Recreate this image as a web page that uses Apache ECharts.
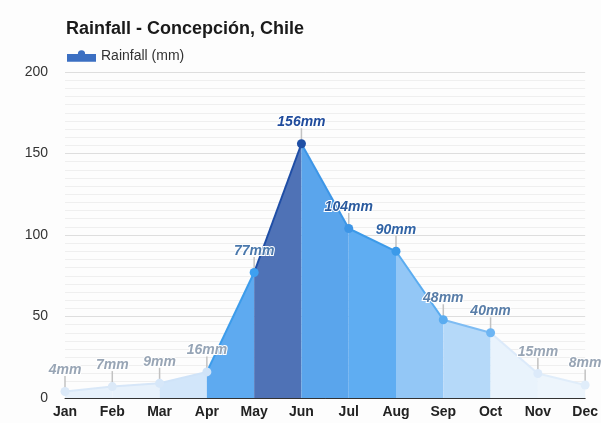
<!DOCTYPE html>
<html>
<head>
<meta charset="utf-8">
<script src="https://cdn.jsdelivr.net/npm/echarts@6/dist/echarts.min.js"></script>
<style>
  html, body { margin: 0; padding: 0; background: #fdfdfd; }
  #chart { width: 601px; height: 423px; }
</style>
</head>
<body>
<div id="chart"></div>
<script>
// Monthly rainfall, Concepción
const months = ['Jan', 'Feb', 'Mar', 'Apr', 'May', 'Jun', 'Jul', 'Aug', 'Sep', 'Oct', 'Nov', 'Dec'];
const rainfall = [4, 7, 9, 16, 77, 156, 104, 90, 48, 40, 15, 8];
const yTicks = [0, 50, 100, 150, 200];

// Fill and stroke for the band between month i and month i+1
const bandFill = ['#e7f1fb', '#e7f1fb', '#d2e6fa', '#5eaaf0', '#4f72b6', '#5aa5ec',
                  '#5fadf2', '#93c7f6', '#b5d9f9', '#e9f3fc', '#edf5fc'];
const bandLine = ['#d9e8f8', '#d6e6f8', '#cfe3f8', '#3c9ceb', '#1f4ea6', '#3d96e7',
                  '#3d9be9', '#5aacf0', '#7ebcf3', '#dceafa', '#e0edfa'];
// Point marker and value-label colours per month
const dotColor = ['#dbe9f8', '#dbe9f8', '#d6e7f9', '#cfe3f8', '#3ea0f0', '#1f4fa5',
                  '#3d95e6', '#3b9ae9', '#5aacf0', '#6db5f3', '#dceafa', '#e0edfa'];
const labelColor = ['#98a5b5', '#98a5b5', '#98a5b5', '#95a4b6', '#4a78ac', '#1f4b9c',
                    '#2a5a9e', '#3063a5', '#587da8', '#587da8', '#98a5b5', '#98a5b5'];

const chart = echarts.init(document.getElementById('chart'), null, { renderer: 'canvas' });

const series = [];
for (let i = 0; i < months.length - 1; i++) {
  const d = months.map(() => null);
  d[i] = rainfall[i];
  d[i + 1] = rainfall[i + 1];
  series.push({
    type: 'line',
    data: d,
    symbol: 'none',
    silent: true,
    z: 2,
    lineStyle: { color: bandLine[i], width: 2 },
    areaStyle: { color: bandFill[i], opacity: 1 },
    connectNulls: false
  });
}

// Short leader ticks between each point and its label
series.push({
  type: 'scatter',
  data: rainfall,
  symbol: 'rect',
  symbolSize: [1.5, 13],
  symbolOffset: [0, -9],
  itemStyle: { color: '#c2c2c2', opacity: 1 },
  silent: true,
  z: 3
});

// Point markers with value labels (this is also the legend entry)
series.push({
  name: 'Rainfall (mm)',
  type: 'scatter',
  data: rainfall.map((v, i) => ({
    value: v,
    itemStyle: { color: dotColor[i] },
    label: { color: labelColor[i] }
  })),
  symbol: 'circle',
  symbolSize: 9,
  itemStyle: { opacity: 1 },
  z: 4,
  label: {
    show: true,
    position: 'top',
    distance: 10,
    formatter: p => p.value + 'mm',
    fontFamily: 'Liberation Sans, Arial, sans-serif',
    fontSize: 14,
    fontWeight: 'bold',
    fontStyle: 'italic',
    textBorderColor: '#ffffff',
    textBorderWidth: 2
  }
});

chart.setOption({
  backgroundColor: '#fdfdfd',
  animation: false,
  textStyle: { fontFamily: 'Liberation Sans, Arial, sans-serif' },
  title: {
    text: 'Rainfall - Concepción, Chile',
    left: 61,
    top: 15,
    textStyle: { fontSize: 18, fontWeight: 'bold', color: '#1a1a1a' }
  },
  legend: {
    left: 62,
    top: 44,
    itemWidth: 29,
    itemHeight: 12,
    itemGap: 6,
    data: [{
      name: 'Rainfall (mm)',
      icon: 'path://M0,6 L28,6 L28,12 L0,12 Z M0,4.5 L10.5,4.5 A3.5,3.5 0 0 1 17.5,4.5 L28,4.5 L28,7 L17.5,7 A3.5,3.5 0 0 1 10.5,7 L0,7 Z',
      itemStyle: { color: '#3b6fc2', opacity: 1 }
    }],
    textStyle: { fontSize: 14, color: '#333' }
  },
  grid: { left: 65, right: 15, top: 72, bottom: 25, containLabel: false },
  xAxis: {
    type: 'category',
    data: months,
    boundaryGap: false,
    axisLine: { lineStyle: { color: '#333', width: 1 } },
    axisTick: { show: false },
    axisLabel: { fontSize: 14, fontWeight: 'bold', color: '#222', margin: 7 },
    splitLine: { show: false }
  },
  yAxis: {
    type: 'value',
    min: yTicks[0],
    max: yTicks[yTicks.length - 1],
    interval: 50,
    axisLine: { show: false },
    axisTick: { show: false },
    axisLabel: { fontSize: 14, color: '#333', margin: 17 },
    splitLine: { lineStyle: { color: '#dedede' } },
    minorTick: { show: false, splitNumber: 10 },
    minorSplitLine: { show: true, lineStyle: { color: '#efefef' } }
  },
  series: series
});
</script>
</body>
</html>
